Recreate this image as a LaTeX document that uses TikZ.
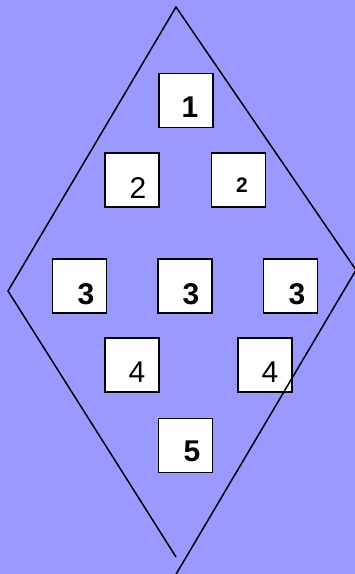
\documentclass[tikz,border=0pt]{standalone}
\usepackage{fontspec}
\setmainfont{Liberation Sans}
\definecolor{bg}{HTML}{9999FF}
\begin{document}
\begin{tikzpicture}[x=1pt,y=-1pt,
  box/.style={draw=black,line width=1.4pt,fill=white,minimum width=54pt,minimum height=54pt,inner sep=0pt},
  num/.style={inner sep=0pt,font=\fontsize{30}{30}\selectfont},
  bnum/.style={num,font=\fontsize{30}{30}\selectfont\bfseries},
  sbnum/.style={num,font=\fontsize{21}{21}\selectfont\bfseries}]
\fill[bg] (0,0) rectangle (355,574);
\useasboundingbox (0,0) rectangle (355,574);
% boxes
\node[box] (b1) at (186,100.5) {};
\node[box] (b2a) at (132,180) {};
\node[box] (b2b) at (238.5,180) {};
\node[box] (b3a) at (79.5,286) {};
\node[box] (b3b) at (185,286) {};
\node[box] (b3c) at (290.5,286) {};
\node[box] (b4a) at (132,365) {};
\node[box] (b4b) at (265,365) {};
\node[box] (b5) at (185.5,445.5) {};
% labels
\node[bnum] (t1) at (190,107) {1};
\node[num] (t2a) at (138,188) {2};
\node[sbnum] (t2b) at (242,185) {2};
\node[bnum] (t3a) at (86,294) {3};
\node[bnum] (t3b) at (191,294) {3};
\node[bnum] (t3c) at (297,294) {3};
\node[num] (t4a) at (137,372) {4};
\node[num] (t4b) at (270,372) {4};
\node[bnum] (t5) at (192,451) {5};
% diamond outline (drawn on top)
\coordinate (T) at (176,7);
\coordinate (L) at (8,291);
\coordinate (R) at (356,270);
\coordinate (B1) at (176,557);
\coordinate (B2) at (175,576);
\draw[line width=1.5pt] (B1) -- (L) -- (T) -- (R) -- (B2);
\end{tikzpicture}
\end{document}
